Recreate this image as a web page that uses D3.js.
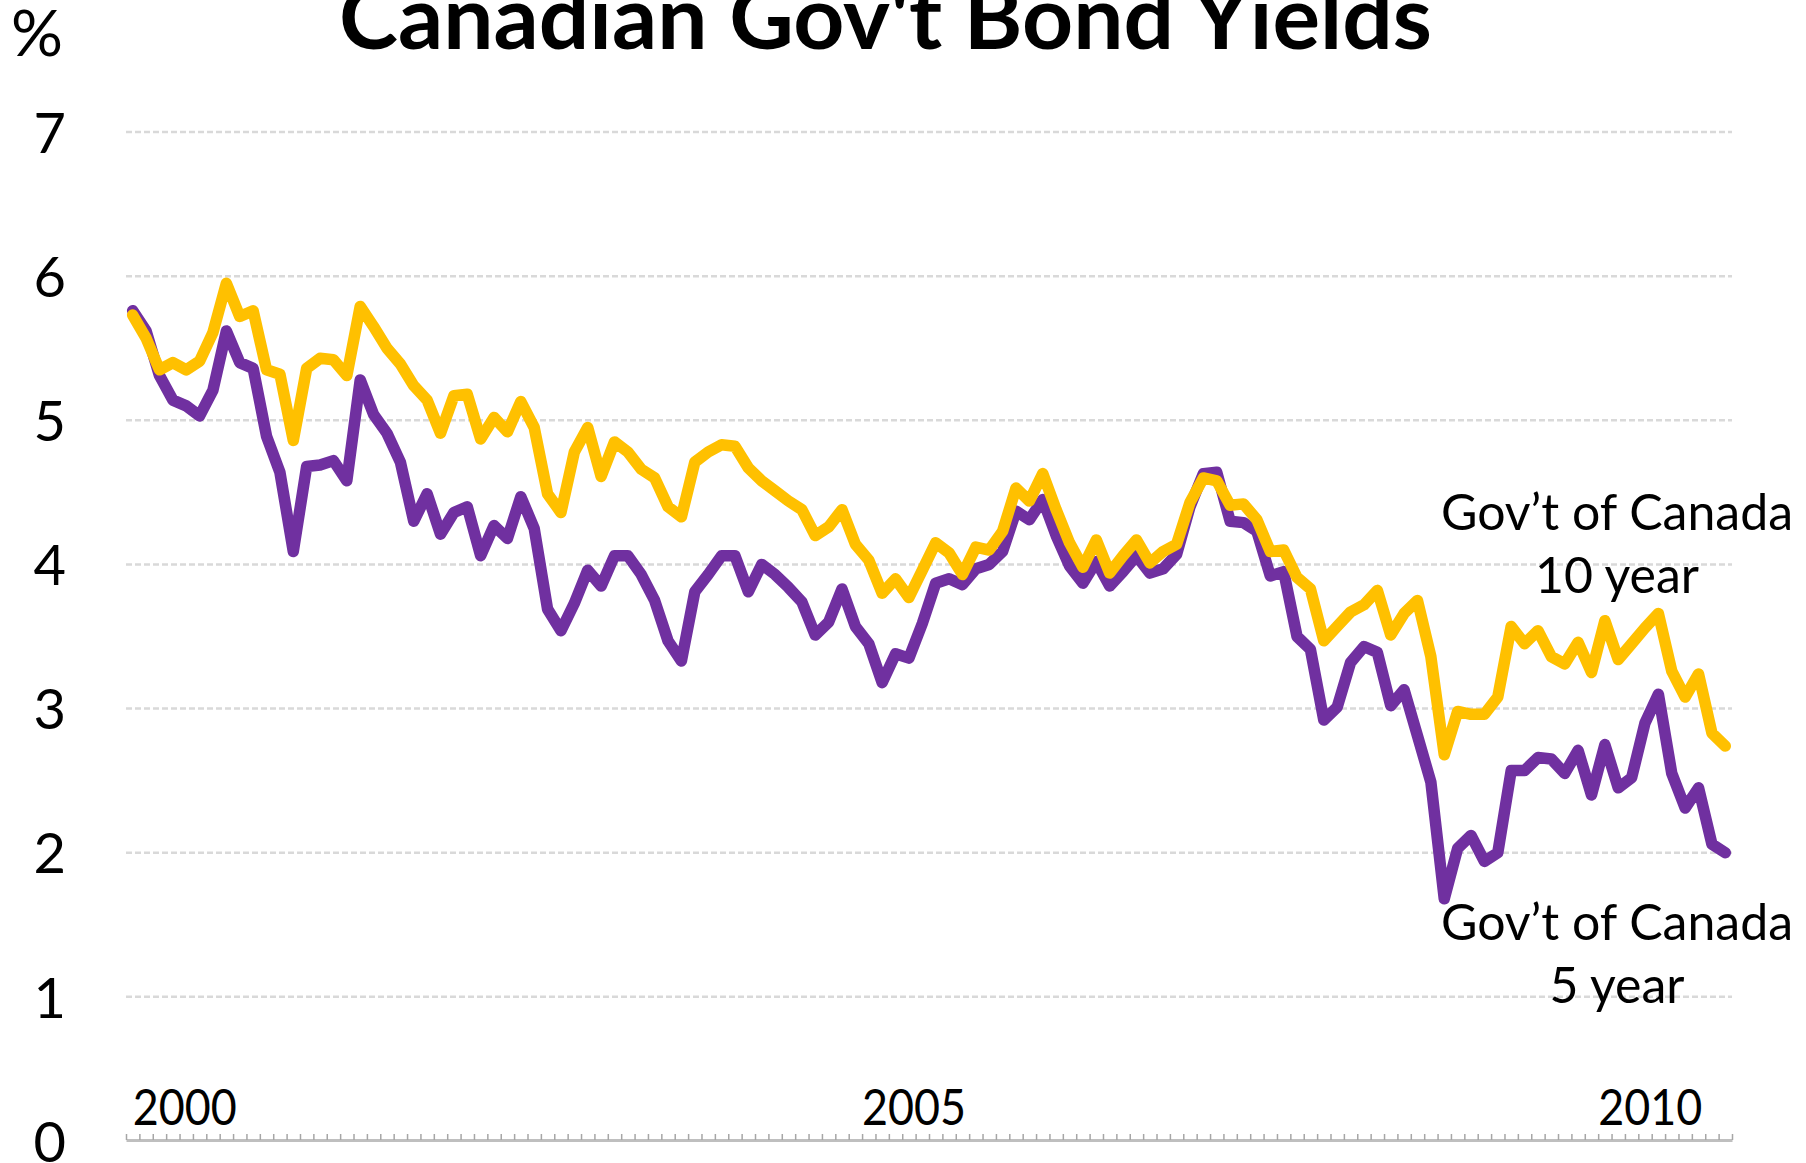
<!DOCTYPE html>
<html>
<head>
<meta charset="utf-8">
<title>Canadian Gov't Bond Yields</title>
<script src="https://cdn.jsdelivr.net/npm/d3@7"></script>
<style>
  body { margin: 0; background: #fff; }
  text { font-family: Lato, "Open Sans", sans-serif; fill: #000; }
</style>
</head>
<body>
<div id="chart"></div>
<script>
'use strict';

/*** Data */
/** Yields in %, one point per period from Jan 2000 to autumn 2010 */
const tenYear = [
  5.73, 5.57, 5.35, 5.40, 5.35, 5.41, 5.61, 5.95, 5.72, 5.76,
  5.35, 5.32, 4.86, 5.36, 5.43, 5.42, 5.31, 5.79, 5.65, 5.50,
  5.39, 5.24, 5.14, 4.91, 5.17, 5.18, 4.87, 5.02, 4.92, 5.13,
  4.95, 4.49, 4.36, 4.78, 4.95, 4.61, 4.85, 4.78, 4.66, 4.60,
  4.40, 4.33, 4.71, 4.78, 4.83, 4.82, 4.67, 4.58, 4.51, 4.44,
  4.38, 4.20, 4.26, 4.38, 4.14, 4.03, 3.80, 3.90, 3.77, 3.96,
  4.15, 4.08, 3.93, 4.12, 4.10, 4.23, 4.53, 4.44, 4.63, 4.38,
  4.15, 3.98, 4.17, 3.94, 4.06, 4.17, 4.01, 4.09, 4.14, 4.43,
  4.60, 4.58, 4.41, 4.42, 4.31, 4.09, 4.10, 3.91, 3.83, 3.47,
  3.57, 3.67, 3.72, 3.82, 3.51, 3.66, 3.75, 3.36, 2.68, 2.98,
  2.96, 2.96, 3.08, 3.57, 3.45, 3.54, 3.36, 3.31, 3.46, 3.25,
  3.61, 3.34, 3.45, 3.56, 3.66, 3.26, 3.08, 3.24, 2.83, 2.74
];

const fiveYear = [
  5.76, 5.62, 5.31, 5.14, 5.10, 5.03, 5.21, 5.62, 5.40, 5.36,
  4.89, 4.64, 4.09, 4.68, 4.69, 4.72, 4.58, 5.28, 5.04, 4.91,
  4.71, 4.30, 4.49, 4.21, 4.36, 4.40, 4.06, 4.27, 4.18, 4.47,
  4.25, 3.69, 3.54, 3.73, 3.96, 3.85, 4.06, 4.06, 3.93, 3.75,
  3.47, 3.33, 3.81, 3.93, 4.06, 4.06, 3.81, 4.00, 3.93, 3.84,
  3.74, 3.51, 3.60, 3.83, 3.57, 3.45, 3.18, 3.38, 3.35, 3.59,
  3.87, 3.90, 3.86, 3.97, 4.00, 4.09, 4.37, 4.31, 4.45, 4.20,
  3.99, 3.87, 4.02, 3.85, 3.95, 4.06, 3.94, 3.97, 4.07, 4.40,
  4.63, 4.64, 4.30, 4.29, 4.23, 3.92, 3.95, 3.50, 3.41, 2.92,
  3.01, 3.32, 3.43, 3.39, 3.02, 3.13, 2.81, 2.49, 1.68, 2.03,
  2.12, 1.94, 2.00, 2.57, 2.57, 2.66, 2.65, 2.55, 2.71, 2.40,
  2.75, 2.45, 2.52, 2.90, 3.10, 2.55, 2.31, 2.45, 2.06, 2.00
];

/** Year labels and the period index each one sits at */
const yearLabels = ["2000", "2005", "2010"];
const yearStart = [0, 54.5, 109.5];

/** Value axis ticks */
const yTicks = [0, 1, 2, 3, 4, 5, 6, 7];

/*** Chart */
const w = 1806;
const h = 1163;
const plotLeft = 126;
const plotRight = 1732;
const plotTop = 132;
const plotBottom = 1141;

const svg = d3.select("#chart")
  .append("svg")
  .attr("width", w)
  .attr("height", h);

const n = tenYear.length;

const xScale = d3.scaleLinear()
  .domain([-0.5, n - 0.5])
  .range([plotLeft, plotRight]);

const yScale = d3.scaleLinear()
  .domain([0, 7])
  .range([plotBottom, plotTop]);

/** Gridlines */
svg.append("g")
  .selectAll("line")
  .data(yTicks.filter(d => d > 0))
  .join("line")
  .attr("x1", plotLeft)
  .attr("x2", plotRight)
  .attr("y1", d => yScale(d))
  .attr("y2", d => yScale(d))
  .attr("stroke", "#d9d9d9")
  .attr("stroke-width", 2.5)
  .attr("stroke-dasharray", "6,3");

/** Category axis, tick marks between periods */
const xAxis = d3.axisTop(xScale)
  .tickValues(d3.range(-0.5, n, 1))
  .tickSize(6)
  .tickSizeOuter(0)
  .tickFormat("");

const gx = svg.append("g")
  .attr("transform", "translate(0," + (yScale(0) - 1) + ")")
  .call(xAxis);
gx.select(".domain").attr("stroke", "#bfbfbf").attr("stroke-width", 3);
gx.selectAll(".tick line").attr("stroke", "#a6a6a6").attr("stroke-width", 1.5);

/** Value axis labels */
const yAxis = d3.axisLeft(yScale)
  .tickValues(yTicks)
  .tickFormat(d3.format("d"))
  .tickSize(0)
  .tickPadding(0);

const gy = svg.append("g")
  .attr("transform", "translate(66,0)")
  .call(yAxis);
gy.select(".domain").remove();
gy.selectAll(".tick text")
  .attr("dy", "0.36em")
  .style("font-family", "Lato, 'Open Sans', sans-serif")
  .style("font-size", "56px")
  .attr("fill", "#000");

/** Year labels */
svg.append("g")
  .selectAll("text")
  .data(yearLabels)
  .join("text")
  .attr("x", (d, i) => xScale(yearStart[i]))
  .attr("y", 1125)
  .attr("font-size", 51)
  .attr("textLength", 104)
  .attr("lengthAdjust", "spacingAndGlyphs")
  .text(d => d);

/** Lines */
const line = d3.line()
  .x((d, i) => xScale(i))
  .y(d => yScale(d));

svg.append("path")
  .datum(fiveYear)
  .attr("d", line)
  .attr("fill", "none")
  .attr("stroke", "#7030A0")
  .attr("stroke-width", 11.5)
  .attr("stroke-linejoin", "round")
  .attr("stroke-linecap", "round");

svg.append("path")
  .datum(tenYear)
  .attr("d", line)
  .attr("fill", "none")
  .attr("stroke", "#FFC000")
  .attr("stroke-width", 11.5)
  .attr("stroke-linejoin", "round")
  .attr("stroke-linecap", "round");

/** Title and unit */
svg.append("text")
  .attr("x", 339)
  .attr("y", 49)
  .attr("font-size", 88)
  .attr("font-weight", "bold")
  .attr("textLength", 1093)
  .attr("lengthAdjust", "spacingAndGlyphs")
  .text("Canadian Gov't Bond Yields");

svg.append("text")
  .attr("x", 11)
  .attr("y", 56)
  .attr("font-size", 64)
  .attr("textLength", 52)
  .attr("lengthAdjust", "spacingAndGlyphs")
  .text("%");

/** Series labels */
const notes = [
  { y: 530, t: "Gov’t of Canada" },
  { y: 593, t: "10 year" },
  { y: 940, t: "Gov’t of Canada" },
  { y: 1003, t: "5 year" }
];

svg.append("g")
  .selectAll("text")
  .data(notes)
  .join("text")
  .attr("x", 1617)
  .attr("y", d => d.y)
  .attr("text-anchor", "middle")
  .attr("font-size", 50)
  .text(d => d.t);
</script>
</body>
</html>
